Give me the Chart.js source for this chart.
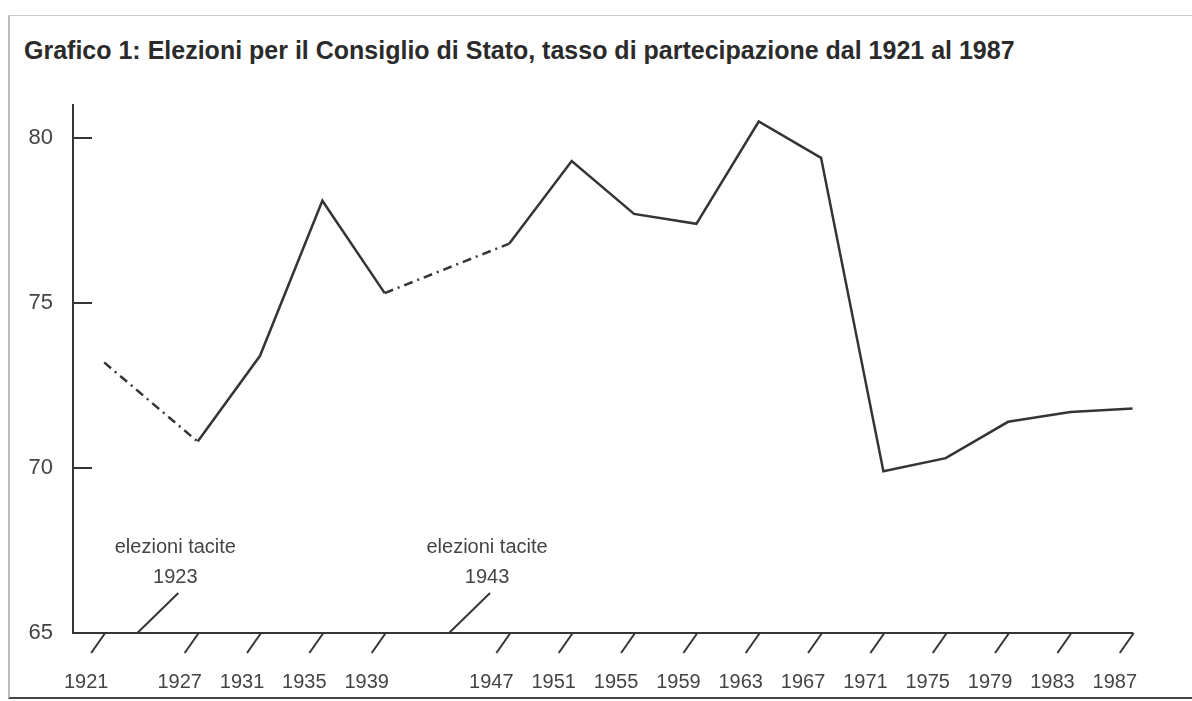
<!DOCTYPE html>
<html>
<head>
<meta charset="utf-8">
<script src="https://cdn.jsdelivr.net/npm/chart.js@4.4.1/dist/chart.umd.min.js"></script>
<style>
  body { margin: 0; background: #fff; }
  #wrap { position: relative; width: 1192px; height: 701px; overflow: hidden; font-family: "Liberation Sans", Arial, sans-serif; }
  #frame { position: absolute; left: 8px; top: 15px; width: 1200px; height: 681px; border-left: 2px solid #bbb; border-top: 1px solid #ccc; border-bottom: 2px solid #444; }
  #title { position: absolute; left: 24px; top: 36px; font-size: 25px; line-height: 29px; font-weight: bold; color: #2b2b2b; white-space: nowrap; }
  canvas { position: absolute; left: 0; top: 0; }
</style>
</head>
<body>
<div id="wrap">
  <div id="frame"></div>
  <div id="title">Grafico 1: Elezioni per il Consiglio di Stato, tasso di partecipazione dal 1921 al 1987</div>
  <canvas id="chart" width="1192" height="701"></canvas>
</div>
<script>
// data
const years = [1921, 1927, 1931, 1935, 1939, 1947, 1951, 1955, 1959, 1963, 1967, 1971, 1975, 1979, 1983, 1987];
const turnout = [73.2, 70.8, 73.4, 78.1, 75.3, 76.8, 79.3, 77.7, 77.4, 80.5, 79.4, 69.9, 70.3, 71.4, 71.7, 71.8];
const yTicks = [65, 70, 75, 80];
const tacitYears = [1923, 1943];
const tacitLabel = "elezioni tacite";
// segments spanning a tacit election are drawn dash-dot
const dashedFrom = [1921, 1939];

const ink = "#353535";
const textColor = "#444";

// small tick marks and the notes under the curve
const axisMarks = {
  id: "axisMarks",
  afterDraw(chart) {
    const ctx = chart.ctx;
    const xs = chart.scales.x;
    const ys = chart.scales.y;
    const bottom = chart.chartArea.bottom;
    const left = chart.chartArea.left;

    ctx.save();
    ctx.strokeStyle = ink;
    ctx.lineWidth = 2;

    // y ticks point inward
    yTicks.forEach((v) => {
      if (v === ys.min) return;
      const y = ys.getPixelForValue(v);
      ctx.beginPath();
      ctx.moveTo(left, y);
      ctx.lineTo(left + 19, y);
      ctx.stroke();
    });

    // x ticks are slanted slashes below the axis
    years.forEach((yr) => {
      const x = xs.getPixelForValue(yr);
      ctx.beginPath();
      ctx.moveTo(x + 1, bottom);
      ctx.lineTo(x - 13, bottom + 20);
      ctx.stroke();
    });

    // tacit elections
    ctx.font = "20px 'Liberation Sans', Arial, sans-serif";
    ctx.fillStyle = textColor;
    ctx.textAlign = "center";
    ctx.textBaseline = "middle";
    tacitYears.forEach((yr) => {
      const x = xs.getPixelForValue(yr);
      ctx.beginPath();
      ctx.moveTo(x + 2, bottom);
      ctx.lineTo(x + 43, bottom - 40);
      ctx.stroke();
      ctx.fillText(String(yr), x + 40, bottom - 56);
      ctx.fillText(tacitLabel, x + 40, bottom - 86);
    });
    ctx.restore();
  },
};

new Chart(document.getElementById("chart"), {
  type: "line",
  data: {
    datasets: [
      {
        data: years.map((yr, i) => ({ x: yr, y: turnout[i] })),
        borderColor: ink,
        borderWidth: 2.5,
        pointRadius: 0,
        tension: 0,
        fill: false,
        segment: {
          borderDash: (c) => (dashedFrom.includes(years[c.p0DataIndex]) ? [9, 5, 2, 5] : undefined),
        },
      },
    ],
  },
  options: {
    responsive: false,
    animation: false,
    layout: { padding: { left: 0, right: 50, top: 105, bottom: 0 } },
    plugins: { legend: { display: false }, tooltip: { enabled: false } },
    scales: {
      x: {
        type: "linear",
        min: 1919,
        max: 1987,
        afterBuildTicks: (s) => { s.ticks = years.map((v) => ({ value: v })); },
        afterFit: (s) => { s.height = 68; },
        grid: { display: true, drawOnChartArea: false, drawTicks: false },
        border: { display: true, color: ink, width: 2 },
        ticks: {
          callback: (v) => String(v),
          autoSkip: false,
          maxRotation: 0,
          labelOffset: -18,
          padding: 37,
          color: textColor,
          font: { family: "'Liberation Sans', Arial, sans-serif", size: 20 },
        },
      },
      y: {
        min: 65,
        max: 81,
        afterBuildTicks: (s) => { s.ticks = yTicks.map((v) => ({ value: v })); },
        afterFit: (s) => { s.width = 73; },
        grid: { display: true, drawOnChartArea: false, drawTicks: false },
        border: { display: true, color: ink, width: 2 },
        ticks: {
          padding: 20,
          color: textColor,
          font: { family: "'Liberation Sans', Arial, sans-serif", size: 22 },
        },
      },
    },
  },
  plugins: [axisMarks],
});
</script>
</body>
</html>
